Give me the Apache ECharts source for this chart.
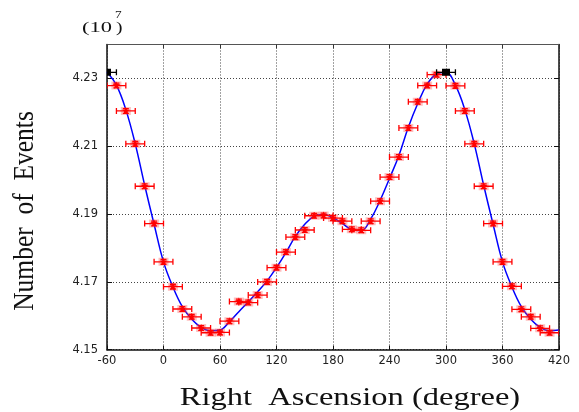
<!DOCTYPE html>
<html><head><meta charset="utf-8">
<script src="https://cdn.jsdelivr.net/npm/echarts@6/dist/echarts.min.js"></script>
<style>html,body{margin:0;padding:0;background:#fff}#c{width:579px;height:412px}</style>
</head><body><div id="c"></div>
<script>
// ---- data (Number of Events in units of 10^7) ----
const xTicks = [-60, 0, 60, 120, 180, 240, 300, 360, 420];
const yTicks = [4.15, 4.17, 4.19, 4.21, 4.23];

const pointRA = [-50, -40, -30, -20, -10, 0, 10, 20, 30, 40, 50, 60, 70, 80, 90, 100, 110, 120, 130, 140,
  150, 160, 170, 180, 190, 200, 210, 220, 230, 240, 250, 260, 270, 280, 290,
  310, 320, 330, 340, 350, 360, 370, 380, 390, 400, 410];
const pointEvents = [4.2279, 4.2204, 4.2107, 4.1982, 4.1872, 4.1759, 4.1686, 4.1620, 4.1597, 4.1564,
  4.1550, 4.1551, 4.1584, 4.1642, 4.1639, 4.1661, 4.1700, 4.1742, 4.1788, 4.1832,
  4.1853, 4.1895, 4.1896, 4.1888, 4.1879, 4.1855, 4.1852, 4.1879, 4.1938, 4.2009,
  4.2068, 4.2154, 4.2231, 4.2279, 4.2311,
  4.2278, 4.2204, 4.2107, 4.1982, 4.1872, 4.1759, 4.1687, 4.1619, 4.1597, 4.1563, 4.1550];

const maxRA = [-60, 300];
const maxEvents = [4.2318, 4.2318];

const curveRA = [-60, -50, -40, -30, -20, -10, 0, 10, 20, 30, 40, 50, 60, 70, 80, 90, 100, 110, 120, 130,
  140, 150, 160, 170, 180, 190, 200, 210, 220, 230, 240, 250, 260, 270, 280, 290, 300, 310, 320, 330,
  340, 350, 360, 370, 380, 390, 400, 410, 420];
const curveEvents = [4.2318, 4.2280, 4.2208, 4.2107, 4.1985, 4.1870, 4.1759, 4.1685, 4.1627, 4.1590,
  4.1566, 4.1556, 4.1558, 4.1582, 4.1612, 4.1641, 4.1671, 4.1703, 4.1742, 4.1786,
  4.1834, 4.1870, 4.1894, 4.1899, 4.1889, 4.1872, 4.1854, 4.1851, 4.1885, 4.1940,
  4.2005, 4.2073, 4.2156, 4.2226, 4.2283, 4.2313, 4.2318, 4.2280, 4.2208, 4.2107,
  4.1985, 4.1870, 4.1759, 4.1685, 4.1627, 4.1590, 4.1566, 4.1556, 4.1558];

const raErr = 10;     // horizontal error (degree)
const evErr = 0.0007; // vertical error (10^7 events)

const zip = (a, b) => a.map((v, i) => [v, b[i]]);

function starPoints(cx, cy, R, r) {
  const pts = [];
  for (let i = 0; i < 10; i++) {
    const a = -Math.PI / 2 + i * Math.PI / 5;
    const rad = i % 2 === 0 ? R : r;
    pts.push([cx + rad * Math.cos(a), cy + rad * Math.sin(a)]);
  }
  return pts;
}

function makeRender(color, isMax) {
  return function (params, api) {
    const x = api.value(0), y = api.value(1);
    const c = api.coord([x, y]);
    const l = api.coord([x - raErr, y]);
    const r = api.coord([x + raErr, y]);
    const t = api.coord([x, y + evErr]);
    const b = api.coord([x, y - evErr]);
    const st = { stroke: color, lineWidth: 1.3, fill: null };
    const ch = [];
    if (!isMax) {
      ch.push({ type: 'rect', shape: { x: c[0] - 5, y: c[1] - 4, width: 10, height: 8 },
        style: { fill: 'rgba(255,70,70,0.35)' } });
    }
    ch.push({ type: 'line', shape: { x1: l[0], y1: l[1], x2: r[0], y2: r[1] }, style: st });
    ch.push({ type: 'line', shape: { x1: l[0], y1: l[1] - 3, x2: l[0], y2: l[1] + 3 }, style: st });
    ch.push({ type: 'line', shape: { x1: r[0], y1: r[1] - 3, x2: r[0], y2: r[1] + 3 }, style: st });
    if (!isMax) {
      ch.push({ type: 'line', shape: { x1: t[0], y1: t[1], x2: b[0], y2: b[1] }, style: st });
      ch.push({ type: 'line', shape: { x1: t[0] - 3, y1: t[1], x2: t[0] + 3, y2: t[1] }, style: st });
      ch.push({ type: 'line', shape: { x1: b[0] - 3, y1: b[1], x2: b[0] + 3, y2: b[1] }, style: st });
      ch.push({ type: 'polygon', shape: { points: starPoints(c[0], c[1], 4, 1.8) },
        style: { fill: color, stroke: null } });
    } else {
      ch.push({ type: 'rect', shape: { x: c[0] - 4, y: c[1] - 3.5, width: 8, height: 7 },
        style: { fill: color } });
    }
    return { type: 'group', children: ch };
  };
}

const chart = echarts.init(document.getElementById('c'), null, { renderer: 'canvas' });
const labelFont = { fontFamily: 'DejaVu Sans', fontSize: 11.5, color: '#222' };
const gridStyle = { type: [1, 2], color: '#444', width: 1 };
const option = {
  animation: false,
  backgroundColor: '#fff',
  grid: { left: 107, right: 20, top: 44.5, bottom: 62.3 },
  xAxis: [
    { type: 'value', position: 'bottom', min: -60, max: 420, interval: 60,
      axisLine: { show: true, onZero: false, lineStyle: { color: '#111', width: 1.5 } },
      axisTick: { show: true, inside: true, length: 4, lineStyle: { color: '#111' } },
      axisLabel: Object.assign({ margin: 5, customValues: xTicks }, labelFont),
      splitLine: { show: true, lineStyle: gridStyle } },
    { type: 'value', position: 'top', min: -60, max: 420, interval: 60,
      axisLine: { show: true, onZero: false, lineStyle: { color: '#555', width: 1 } },
      axisTick: { show: true, inside: true, length: 4, lineStyle: { color: '#333' } },
      axisLabel: { show: false }, splitLine: { show: false } }
  ],
  yAxis: [
    { type: 'value', position: 'left', min: 4.15, max: 4.24, scale: true,
      axisLine: { show: true, onZero: false, lineStyle: { color: '#111', width: 1.5 } },
      axisTick: { show: true, inside: true, length: 5, customValues: yTicks, lineStyle: { color: '#111' } },
      axisLabel: Object.assign({ margin: 9, customValues: yTicks, formatter: v => v.toFixed(2) }, labelFont),
      splitLine: { show: true, lineStyle: gridStyle } },
    { type: 'value', position: 'right', min: 4.15, max: 4.24, scale: true,
      axisLine: { show: true, onZero: false, lineStyle: { color: '#111', width: 1.5 } },
      axisTick: { show: true, inside: true, length: 5, customValues: yTicks, lineStyle: { color: '#111' } },
      axisLabel: { show: false }, splitLine: { show: false } }
  ],
  graphic: [
    { type: 'text', x: 350, y: 398, scaleX: 1.25,
      style: { text: 'Right  Ascension (degree)', font: '26px "Liberation Serif"', fill: '#111',
        textAlign: 'center', textVerticalAlign: 'middle', verticalAlign: 'middle' } },
    { type: 'text', x: 25, y: 211, rotation: Math.PI / 2, scaleX: 0.85,
      style: { text: 'Number  of  Events', font: '30px "Liberation Serif"', fill: '#111',
        textAlign: 'center', textVerticalAlign: 'middle', verticalAlign: 'middle' } },
    { type: 'text', x: 82, y: 28, scaleX: 1.5,
      style: { text: '(10', font: '15px "Liberation Serif"', fill: '#111',
        textAlign: 'left', textVerticalAlign: 'middle', verticalAlign: 'middle' } },
    { type: 'text', x: 116, y: 28, scaleX: 1.3,
      style: { text: ')', font: '15px "Liberation Serif"', fill: '#111',
        textAlign: 'left', textVerticalAlign: 'middle', verticalAlign: 'middle' } },
    { type: 'text', x: 115, y: 15, scaleX: 1.2,
      style: { text: '7', font: '11px "Liberation Serif"', fill: '#111',
        textAlign: 'left', textVerticalAlign: 'middle', verticalAlign: 'middle' } }
  ],
  series: [
    { type: 'line', name: 'fit', data: zip(curveRA, curveEvents), smooth: 0.4, showSymbol: false,
      lineStyle: { color: '#0000ff', width: 1.5 }, z: 2 },
    { type: 'custom', name: 'data', data: zip(pointRA, pointEvents), clip: true,
      renderItem: makeRender('#ff0000', false), z: 3 },
    { type: 'custom', name: 'max', data: zip(maxRA, maxEvents), clip: true,
      renderItem: makeRender('#000000', true), z: 4 }
  ]
};
chart.setOption(option);
</script>
</body></html>
